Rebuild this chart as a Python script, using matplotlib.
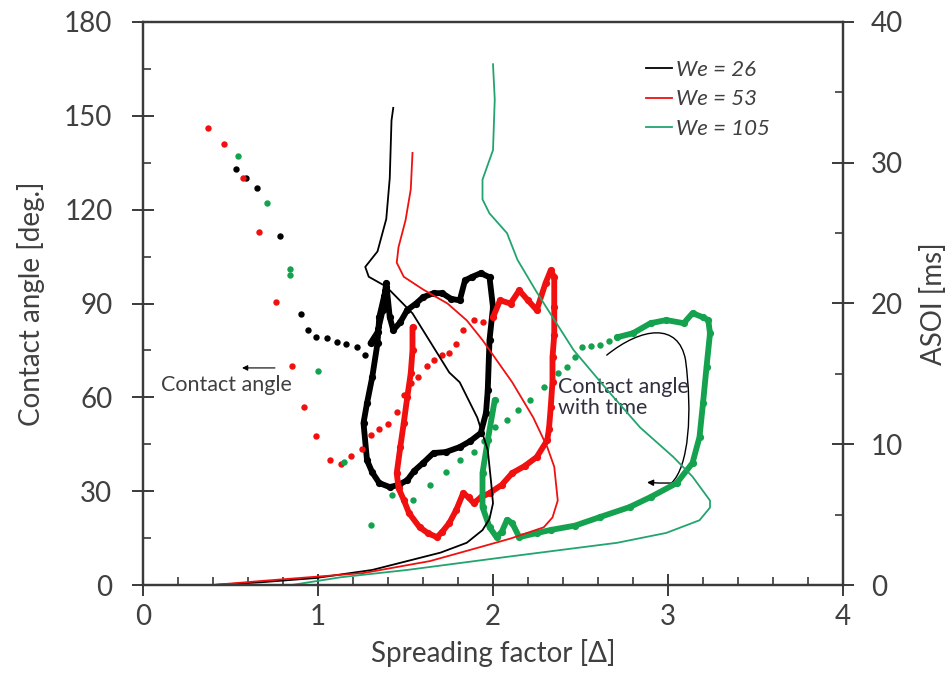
import matplotlib
matplotlib.use("Agg")
import matplotlib.pyplot as plt
from matplotlib.ticker import MultipleLocator
from matplotlib.path import Path
from matplotlib.patches import FancyArrowPatch

plt.rcParams['font.family'] = ['Lato', 'DejaVu Sans']

# ---------------- data: contact angle (left axis, deg) ----------------
# We = 26 (black)
blk_sparse_x = [0.53, 0.59, 0.65, 0.78, 0.90]
blk_sparse_y = [133, 130, 127, 111.5, 86.6]
blk_dot_x = [0.94, 0.99, 1.05, 1.11, 1.16, 1.22, 1.27]
blk_dot_y = [81.5, 79.2, 78.9, 77.6, 77.0, 76.0, 73.5]
blk_dense_x = [1.30, 1.34, 1.37, 1.39, 1.41, 1.43, 1.47, 1.51, 1.56, 1.60, 1.66, 1.71, 1.76, 1.81,
               1.84, 1.88, 1.93, 1.98, 2.00, 1.98, 1.97, 1.96, 1.93, 1.87, 1.81, 1.73, 1.66, 1.60,
               1.55, 1.51, 1.46, 1.41, 1.35, 1.31, 1.28, 1.26, 1.28, 1.31, 1.34, 1.35, 1.39]
blk_dense_y = [77.3, 80.8, 88.0, 96.5, 85.6, 81.5, 84.0, 87.9, 90.0, 92.0, 93.3, 93.3, 91.5, 91.0,
               97.4, 98.5, 99.7, 98.4, 88.8, 78.3, 62.3, 55.0, 48.6, 46.0, 44.1, 42.5, 42.2, 39.0,
               36.5, 33.5, 32.0, 31.3, 32.6, 36.0, 39.9, 51.8, 58.1, 66.5, 77.3, 85.6, 95.2]

# We = 53 (red)
red_sparse_x = [0.37, 0.46, 0.57, 0.66, 0.76, 0.85, 0.92, 0.99, 1.07]
red_sparse_y = [146, 141, 130, 113, 90.4, 70.0, 56.9, 47.6, 40.0]
red_dot_x = [1.13, 1.19, 1.25, 1.30, 1.35, 1.40, 1.45, 1.49, 1.53, 1.57, 1.62, 1.66, 1.71, 1.75,
             1.79, 1.83, 1.89, 1.94, 2.00]
red_dot_y = [38.7, 41.2, 43.5, 47.9, 49.8, 51.4, 55.3, 60.7, 64.5, 66.5, 70.0, 71.9, 73.5, 74.1,
             77.0, 81.5, 84.7, 84.0, 85.6]
red_dense_x = [2.00, 2.04, 2.10, 2.15, 2.20, 2.25, 2.30, 2.33, 2.35, 2.35, 2.35, 2.34, 2.34, 2.33,
               2.32, 2.31, 2.25, 2.18, 2.11, 2.05, 1.98, 1.93, 1.89, 1.86, 1.83, 1.79, 1.75, 1.71,
               1.68, 1.63, 1.58, 1.52, 1.49, 1.46, 1.45, 1.47, 1.49, 1.51, 1.53, 1.54, 1.54]
red_dense_y = [85.6, 91.0, 90.0, 94.2, 91.0, 87.9, 96.5, 100.6, 98.4, 88.8, 80.0, 72.8, 65.0, 56.9,
               50.0, 46.3, 40.9, 38.0, 35.8, 32.0, 29.4, 28.0, 26.2, 28.0, 29.4, 24.0, 19.8, 17.0,
               15.3, 16.5, 18.5, 23.0, 27.2, 31.0, 35.8, 44.0, 51.8, 60.0, 67.7, 75.0, 82.4]

# We = 105 (green)
grn_sparse_x = [0.54, 0.71, 0.84, 0.84, 1.00, 1.15, 1.30]
grn_sparse_y = [137, 122, 101, 99, 68.4, 39.3, 19.2]
grn_dot_x = [1.42, 1.54, 1.64, 1.73, 1.81, 1.89, 1.95, 2.01, 2.08, 2.14, 2.21, 2.29, 2.37, 2.42,
             2.47, 2.51, 2.56, 2.61, 2.66, 2.71]
grn_dot_y = [28.8, 27.2, 32.0, 36.1, 39.9, 42.5, 46.0, 50.5, 52.7, 55.9, 59.1, 63.3, 67.7, 69.6,
             73.0, 76.0, 76.5, 76.7, 78.0, 79.2]
grn_dense_x = [2.71, 2.80, 2.90, 2.99, 3.09, 3.14, 3.20, 3.23, 3.24, 3.22, 3.20, 3.18, 3.14, 3.05,
               2.90, 2.78, 2.61, 2.47, 2.33, 2.25, 2.15, 2.11, 2.08, 2.05, 2.02, 1.98, 1.94, 1.94,
               1.97, 2.01]
grn_dense_y = [79.2, 80.5, 83.7, 84.7, 83.7, 86.9, 85.6, 84.7, 80.5, 69.6, 58.1, 47.3, 39.0, 32.6,
               28.1, 24.9, 21.7, 19.0, 17.6, 16.6, 15.3, 19.8, 20.8, 17.0, 15.3, 18.5, 24.9, 35.8,
               46.3, 59.1]

# ---------------- data: ASOI (right axis, ms) ----------------
asoi_blk_x = [1.43, 1.42, 1.41, 1.39, 1.34, 1.27, 1.29, 1.39, 1.54, 1.75, 1.81, 1.91, 1.97, 1.99,
              2.00, 1.98, 1.94, 1.85, 1.70, 1.31, 0.99, 0.68, 0.40]
asoi_blk_y = [33.9, 33.0, 28.9, 26.0, 23.7, 22.6, 21.9, 21.2, 19.3, 15.1, 14.4, 11.9, 9.6, 7.2,
              5.8, 4.7, 3.9, 3.0, 2.3, 1.07, 0.5, 0.2, 0.0]
asoi_red_x = [1.54, 1.53, 1.50, 1.46, 1.45, 1.49, 1.60, 1.74, 1.85, 1.94, 2.11, 2.23, 2.31, 2.35,
              2.37, 2.34, 2.29, 2.10, 1.90, 1.64, 1.26, 0.69, 0.40]
asoi_red_y = [30.7, 28.1, 25.9, 24.0, 22.9, 21.9, 21.0, 20.0, 18.8, 17.4, 14.4, 11.9, 9.8, 8.4,
              6.0, 4.8, 4.1, 3.3, 2.6, 1.7, 0.85, 0.3, 0.0]
asoi_grn_x = [2.00, 2.01, 2.00, 1.96, 1.94, 1.94, 1.98, 2.08, 2.14, 2.25, 2.46, 2.65, 2.84, 3.03,
              3.14, 3.24, 3.24, 3.18, 2.99, 2.71, 2.08, 1.51, 1.13, 0.85]
asoi_grn_y = [37.0, 34.5, 30.9, 29.5, 28.8, 27.4, 26.4, 25.0, 23.1, 20.8, 16.7, 13.9, 11.2, 9.1,
              7.7, 6.0, 5.5, 4.6, 3.7, 3.0, 2.0, 1.07, 0.55, 0.0]

labels = ['We = 26', 'We = 53', 'We = 105']
x_ticks = [0, 1, 2, 3, 4]
left_ticks = [0, 30, 60, 90, 120, 150, 180]
right_ticks = [0, 10, 20, 30, 40]

BLACK = '#000000'
RED = '#f01010'
GREEN_DOT = '#14a24e'
GREEN_LINE = '#22a46e'
AX_COL = '#3a3a3a'
TXT_COL = '#404040'

fig = plt.figure(figsize=(9.47, 6.77), dpi=100)
ax = fig.add_axes([143 / 947, (677 - 585) / 677, 700 / 947, 563 / 677])
ax2 = ax.twinx()

ms = 4.6
# contact angle scatter
for sx, sy, dx, dy, nx, ny, c in [
        (blk_sparse_x, blk_sparse_y, blk_dot_x, blk_dot_y, blk_dense_x, blk_dense_y, BLACK),
        (red_sparse_x, red_sparse_y, red_dot_x, red_dot_y, red_dense_x, red_dense_y, RED),
        (grn_sparse_x, grn_sparse_y, grn_dot_x, grn_dot_y, grn_dense_x, grn_dense_y, GREEN_DOT)]:
    ax.plot(sx, sy, 'o', color=c, ms=ms, mec='none')
    ax.plot(dx, dy, 'o', color=c, ms=ms, mec='none')
    ax.plot(nx, ny, '-o', color=c, ms=ms + 0.6, mec='none', lw=4.2,
            solid_joinstyle='round', solid_capstyle='round')

# ASOI lines
l1, = ax2.plot(asoi_blk_x, asoi_blk_y, color=BLACK, lw=1.3, label=labels[0])
l2, = ax2.plot(asoi_red_x, asoi_red_y, color=RED, lw=1.3, label=labels[1])
l3, = ax2.plot(asoi_grn_x, asoi_grn_y, color=GREEN_LINE, lw=1.3, label=labels[2])

ax.set_xlim(0, 4)
ax.set_ylim(0, 180)
ax2.set_ylim(0, 40)
ax.set_xticks(x_ticks)
ax.set_yticks(left_ticks)
ax2.set_yticks(right_ticks)
ax.xaxis.set_minor_locator(MultipleLocator(0.2))
ax.yaxis.set_minor_locator(MultipleLocator(15))
ax2.yaxis.set_minor_locator(MultipleLocator(5))

fs = 20
for a in (ax, ax2):
    for s in a.spines.values():
        s.set_color(AX_COL)
        s.set_linewidth(1.6)
ax.tick_params(axis='both', which='major', direction='inout', length=16, width=1.4,
               color=AX_COL, labelsize=fs, labelcolor=TXT_COL)
ax.tick_params(axis='both', which='minor', direction='in', length=6, width=1.2, color=AX_COL)
ax.tick_params(axis='y', which='major', pad=14)
ax.tick_params(axis='x', which='major', pad=6)
ax.tick_params(top=False, right=False, which='both')
ax2.tick_params(axis='y', which='major', direction='inout', length=16, width=1.4,
                color=AX_COL, labelsize=fs, labelcolor=TXT_COL, pad=12)
ax2.tick_params(axis='y', which='minor', direction='in', length=6, width=1.2, color=AX_COL)

ax.set_xlabel('Spreading factor [Δ]', fontsize=fs, color=TXT_COL, labelpad=6)
ax.set_ylabel('Contact angle [deg.]', fontsize=fs, color=TXT_COL, labelpad=14)
ax2.set_ylabel('ASOI [ms]', fontsize=fs, color=TXT_COL, labelpad=12)

leg = ax2.legend(handles=[l1, l2, l3], loc='upper left', bbox_to_anchor=(0.69, 0.968),
                 frameon=False, handlelength=1.15, handletextpad=0.2, labelspacing=0.42,
                 prop={'style': 'italic', 'size': 16})
for t in leg.get_texts():
    t.set_color(TXT_COL)

# annotations
ax.annotate('', xy=(0.55, 69.4), xytext=(0.77, 69.4),
            arrowprops=dict(arrowstyle='-|>', color='black', lw=0.8, mutation_scale=8))
ax.text(0.1, 64.0, 'Contact angle', fontsize=15.5, color=TXT_COL, va='center', ha='left')
ax.text(2.37, 60.0, 'Contact angle\nwith time', fontsize=15.5, color='#303040',
        va='center', ha='left', linespacing=1.1)

verts = [(2.65, 73.5), (2.85, 82.5), (3.06, 84.0), (3.10, 72.0),
         (3.14, 55.0), (3.12, 38.0), (3.02, 32.6), (2.95, 32.6), (2.88, 32.8)]
codes = [Path.MOVETO, Path.CURVE4, Path.CURVE4, Path.CURVE4,
         Path.CURVE4, Path.CURVE4, Path.CURVE4, Path.LINETO, Path.LINETO]
arrow = FancyArrowPatch(path=Path(verts, codes), arrowstyle='-|>', color='black',
                        lw=1.0, mutation_scale=9, transform=ax.transData)
ax.add_patch(arrow)

fig.savefig('out.png', dpi=100)
